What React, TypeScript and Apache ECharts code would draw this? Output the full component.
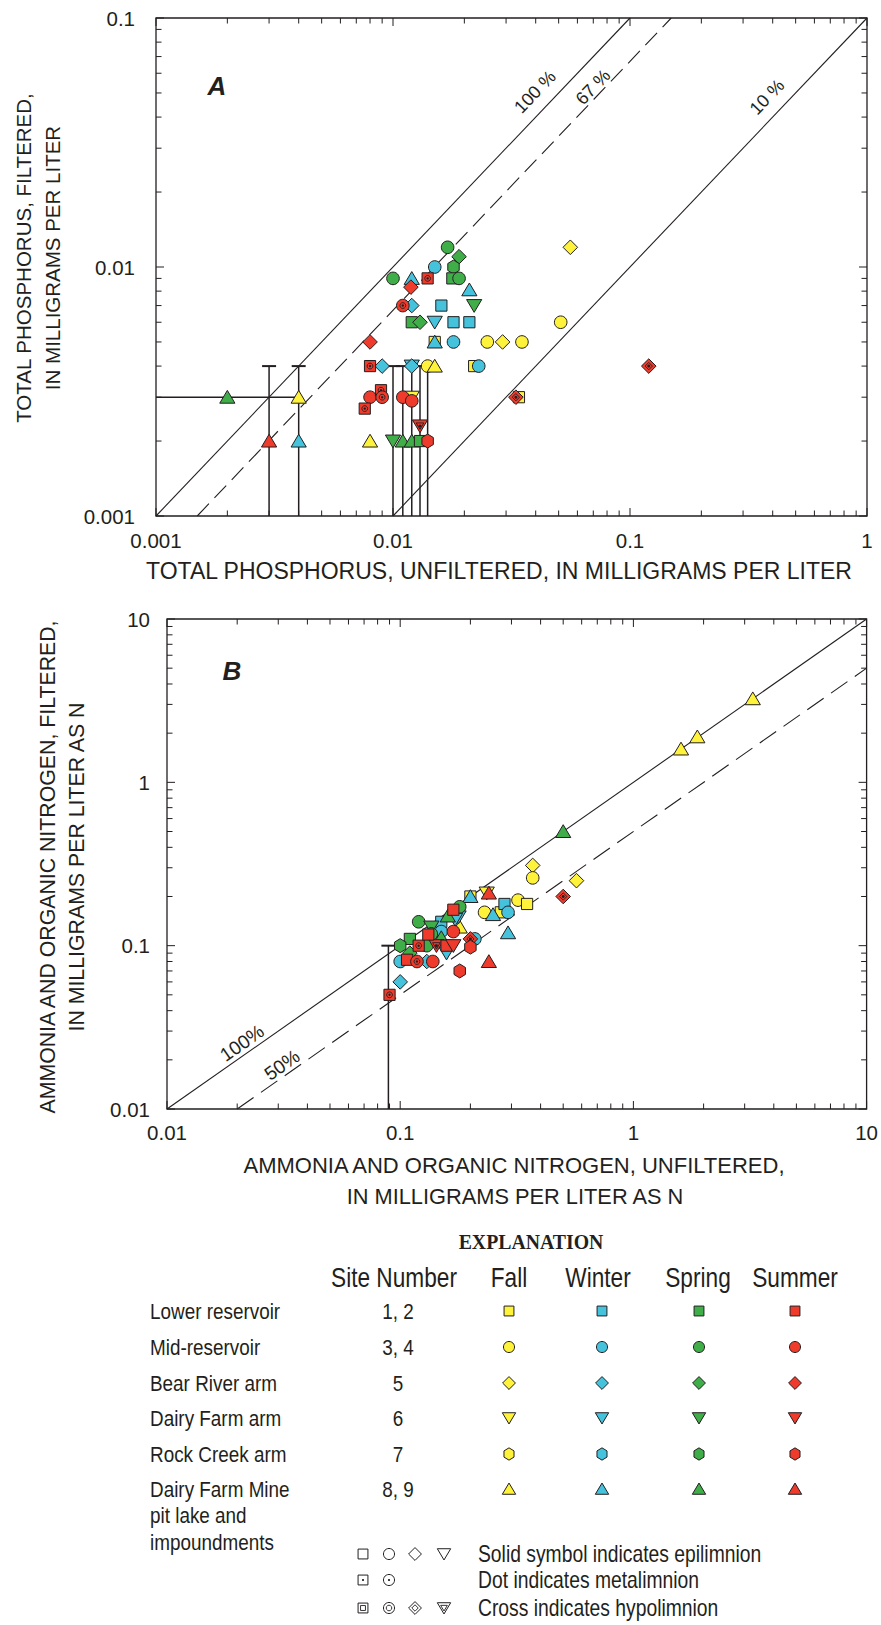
import React, { useEffect, useRef } from "react";
import * as echarts from "echarts";

const INK = "#231f20";
const SANS = "'Liberation Sans', Arial, Helvetica, sans-serif";
const SERIF = "'Liberation Serif', 'Times New Roman', serif";

// fall, winter, spring, summer
const SEASONS = ["Fall", "Winter", "Spring", "Summer"];
const SEASON_COLORS = ["#fff23a", "#45c3dc", "#3fae49", "#ee3b2c"];

// site symbols: sq lower reservoir, ci mid-reservoir, di Bear River arm,
// it Dairy Farm arm, hx Rock Creek arm, tr Dairy Farm Mine pit lake
const SITES = ["sq", "ci", "di", "it", "hx", "tr"];
// e epilimnion, m metalimnion, h hypolimnion
const LAYERS = ["e", "m", "h"];

// ---- Panel A: total phosphorus, [unfiltered, filtered, site, layer] (mg/L)
const phosFall: [number, number, string, string][] = [
  [0.056, 0.012, "di", "e"],
  [0.051, 0.006, "ci", "e"],
  [0.025, 0.005, "ci", "e"],
  [0.029, 0.005, "di", "e"],
  [0.035, 0.005, "ci", "e"],
  [0.015, 0.005, "sq", "e"],
  [0.014, 0.004, "ci", "e"],
  [0.015, 0.004, "tr", "e"],
  [0.022, 0.004, "sq", "e"],
  [0.034, 0.003, "sq", "e"],
  [0.012, 0.003, "it", "e"],
  [0.004, 0.003, "tr", "e"],
  [0.008, 0.002, "tr", "e"],
];
const phosWinter: [number, number, string, string][] = [
  [0.015, 0.010, "ci", "e"],
  [0.012, 0.009, "tr", "e"],
  [0.021, 0.0081, "tr", "e"],
  [0.012, 0.007, "di", "e"],
  [0.016, 0.007, "sq", "e"],
  [0.015, 0.006, "it", "e"],
  [0.018, 0.006, "sq", "e"],
  [0.021, 0.006, "sq", "e"],
  [0.015, 0.005, "tr", "e"],
  [0.018, 0.005, "ci", "e"],
  [0.009, 0.004, "di", "e"],
  [0.012, 0.004, "it", "e"],
  [0.012, 0.004, "di", "e"],
  [0.023, 0.004, "ci", "e"],
  [0.004, 0.002, "tr", "e"],
];
const phosSpring: [number, number, string, string][] = [
  [0.017, 0.012, "ci", "e"],
  [0.019, 0.011, "di", "e"],
  [0.018, 0.010, "hx", "e"],
  [0.010, 0.009, "ci", "e"],
  [0.0178, 0.009, "sq", "e"],
  [0.019, 0.009, "ci", "e"],
  [0.022, 0.007, "it", "e"],
  [0.012, 0.006, "sq", "e"],
  [0.013, 0.006, "di", "e"],
  [0.002, 0.003, "tr", "e"],
  [0.010, 0.002, "it", "e"],
  [0.011, 0.002, "tr", "e"],
  [0.012, 0.002, "tr", "e"],
  [0.013, 0.002, "sq", "e"],
];
const phosSummer: [number, number, string, string][] = [
  [0.014, 0.009, "sq", "m"],
  [0.0119, 0.0083, "di", "e"],
  [0.011, 0.007, "ci", "m"],
  [0.008, 0.005, "di", "e"],
  [0.008, 0.004, "sq", "m"],
  [0.008, 0.003, "ci", "e"],
  [0.0089, 0.0032, "sq", "m"],
  [0.009, 0.003, "ci", "m"],
  [0.0076, 0.0027, "sq", "m"],
  [0.011, 0.003, "ci", "e"],
  [0.012, 0.0029, "ci", "e"],
  [0.033, 0.003, "di", "h"],
  [0.12, 0.004, "di", "h"],
  [0.013, 0.0023, "it", "h"],
  [0.014, 0.002, "hx", "e"],
  [0.003, 0.002, "tr", "e"],
];
// censored values: vertical [x, yLow, yHigh], horizontal [xLow, xHigh, y]
const phosBarsV = [
  [0.003, 0.001, 0.004],
  [0.004, 0.001, 0.004],
  [0.010, 0.001, 0.004],
  [0.011, 0.001, 0.004],
  [0.012, 0.001, 0.004],
  [0.013, 0.001, 0.004],
  [0.014, 0.001, 0.004],
];
const phosBarsH = [[0.001, 0.004, 0.003]];
const phosRatios = [1, 0.67, 0.1];
const phosRatioDashed = [false, true, false];
const phosXLabels = ["0.001", "0.01", "0.1", "1"];
const phosYLabels = ["0.001", "0.01", "0.1"];

// ---- Panel B: ammonia + organic nitrogen, [unfiltered, filtered, site, layer] (mg/L as N)
const nitroFall: [number, number, string, string][] = [
  [3.25, 3.25, "tr", "e"],
  [1.88, 1.9, "tr", "e"],
  [1.6, 1.6, "tr", "e"],
  [0.37, 0.31, "di", "e"],
  [0.37, 0.26, "ci", "e"],
  [0.57, 0.25, "di", "e"],
  [0.32, 0.19, "ci", "e"],
  [0.35, 0.18, "sq", "e"],
  [0.27, 0.16, "sq", "e"],
  [0.23, 0.16, "ci", "e"],
  [0.2, 0.2, "sq", "e"],
  [0.235, 0.21, "it", "e"],
  [0.18, 0.13, "tr", "e"],
];
const nitroWinter: [number, number, string, string][] = [
  [0.28, 0.18, "sq", "e"],
  [0.29, 0.16, "ci", "e"],
  [0.25, 0.155, "tr", "e"],
  [0.29, 0.12, "tr", "e"],
  [0.2, 0.2, "tr", "e"],
  [0.1, 0.06, "di", "e"],
  [0.1, 0.08, "ci", "e"],
  [0.13, 0.08, "di", "e"],
  [0.158, 0.09, "it", "e"],
  [0.15, 0.14, "sq", "e"],
  [0.15, 0.122, "ci", "e"],
  [0.178, 0.15, "it", "e"],
  [0.172, 0.145, "it", "e"],
  [0.209, 0.11, "ci", "e"],
];
const nitroSpring: [number, number, string, string][] = [
  [0.5, 0.5, "tr", "e"],
  [0.12, 0.14, "ci", "e"],
  [0.11, 0.11, "sq", "e"],
  [0.1, 0.1, "hx", "e"],
  [0.11, 0.09, "di", "e"],
  [0.13, 0.1, "ci", "e"],
  [0.136, 0.13, "it", "e"],
  [0.15, 0.112, "tr", "e"],
  [0.16, 0.152, "tr", "e"],
  [0.18, 0.173, "ci", "e"],
  [0.136, 0.118, "ci", "e"],
];
const nitroSummer: [number, number, string, string][] = [
  [0.5, 0.2, "di", "h"],
  [0.24, 0.21, "tr", "e"],
  [0.24, 0.08, "tr", "e"],
  [0.18, 0.07, "hx", "e"],
  [0.09, 0.05, "sq", "m"],
  [0.107, 0.082, "sq", "e"],
  [0.118, 0.08, "ci", "m"],
  [0.138, 0.08, "ci", "e"],
  [0.12, 0.1, "sq", "m"],
  [0.143, 0.1, "it", "h"],
  [0.158, 0.1, "sq", "e"],
  [0.169, 0.1, "it", "e"],
  [0.132, 0.117, "sq", "e"],
  [0.169, 0.122, "ci", "e"],
  [0.169, 0.166, "sq", "e"],
  [0.2, 0.11, "di", "h"],
  [0.2, 0.098, "hx", "e"],
];
const nitroBarsV = [[0.089, 0.01, 0.1]];
const nitroRatios = [1, 0.5];
const nitroRatioDashed = [false, true];
const nitroXLabels = ["0.01", "0.1", "1", "10"];
const nitroYLabels = ["0.01", "0.1", "1", "10"];

// ---- Explanation table
const legendSites = [
  "Lower reservoir",
  "Mid-reservoir",
  "Bear River arm",
  "Dairy Farm arm",
  "Rock Creek arm",
  "Dairy Farm Mine",
];
const legendSiteNumbers = ["1, 2", "3, 4", "5", "6", "7", "8, 9"];
const legendLayerTexts = [
  "Solid symbol indicates epilimnion",
  "Dot indicates metalimnion",
  "Cross indicates hypolimnion",
];

// plot frames (px)
const GA = { left: 156, top: 18, width: 711, height: 498 };
const GB = { left: 167, top: 619, width: 700, height: 490 };
const EXT_A = { xmin: 0.001, xmax: 1, ymin: 0.001, ymax: 0.1 };
const EXT_B = { xmin: 0.01, xmax: 10, ymin: 0.01, ymax: 10 };

// condensed look for the sans text
const CONDENSE = 0.84;

function shapeEl(site: string, cx: number, cy: number, k: number, style: any): any {
  switch (site) {
    case "sq":
      return { type: "rect", shape: { x: cx - 5.6 * k, y: cy - 5.6 * k, width: 11.2 * k, height: 11.2 * k }, style };
    case "ci":
      return { type: "circle", shape: { cx, cy, r: 6.3 * k }, style };
    case "di":
      return {
        type: "polygon",
        shape: { points: [[cx, cy - 7.3 * k], [cx + 7.3 * k, cy], [cx, cy + 7.3 * k], [cx - 7.3 * k, cy]] },
        style,
      };
    case "it":
      return {
        type: "polygon",
        shape: { points: [[cx - 7.6 * k, cy - 6 * k], [cx + 7.6 * k, cy - 6 * k], [cx, cy + 6.8 * k]] },
        style,
      };
    case "tr":
      return {
        type: "polygon",
        shape: { points: [[cx, cy - 6.8 * k], [cx + 7.6 * k, cy + 6 * k], [cx - 7.6 * k, cy + 6 * k]] },
        style,
      };
    default: {
      const pts: number[][] = [];
      for (let i = 0; i < 6; i++) {
        const a = -Math.PI / 2 + (i * Math.PI) / 3;
        pts.push([cx + 6.6 * k * Math.cos(a), cy + 7 * k * Math.sin(a)]);
      }
      return { type: "polygon", shape: { points: pts }, style };
    }
  }
}

function markerParts(site: string, layer: string, cx: number, cy: number, fill: string, k = 1, ring = true): any[] {
  const parts = [shapeEl(site, cx, cy, k, { fill, stroke: INK, lineWidth: 1 })];
  if (layer === "m") {
    if (ring) parts.push({ type: "circle", shape: { cx, cy, r: 2.9 * k }, style: { fill: "none", stroke: INK, lineWidth: 0.9 } });
    parts.push({ type: "circle", shape: { cx, cy, r: 1.2 * k }, style: { fill: INK } });
  } else if (layer === "h") {
    parts.push(shapeEl(site, cx, cy, 0.5 * k, { fill: "none", stroke: INK, lineWidth: 0.9 }));
    parts.push({ type: "circle", shape: { cx, cy, r: 1.5 * k }, style: { fill: INK } });
  }
  return parts;
}

function markerSeries(g: number, rows: [number, number, string, string][], season: number): any {
  return {
    type: "custom",
    name: SEASONS[season],
    xAxisIndex: g,
    yAxisIndex: g,
    z: 5,
    encode: { x: 0, y: 1 },
    data: rows.map(([x, y, s, l]) => [x, y, SITES.indexOf(s), LAYERS.indexOf(l)]),
    renderItem: (_p: any, api: any) => {
      const pt = api.coord([api.value(0), api.value(1)]);
      const site = SITES[api.value(2) as number];
      const layer = LAYERS[api.value(3) as number];
      return { type: "group", children: markerParts(site, layer, pt[0], pt[1], SEASON_COLORS[season]) };
    },
  };
}

function tickValues(min: number, max: number): [number, boolean][] {
  const out: [number, boolean][] = [];
  const e0 = Math.round(Math.log10(min));
  const e1 = Math.round(Math.log10(max));
  for (let e = e0; e <= e1; e++) {
    for (let m = 1; m <= 9; m++) {
      const v = Number((m * Math.pow(10, e)).toPrecision(6));
      if (v < min * 0.999 || v > max * 1.001) continue;
      out.push([v, m === 1]);
    }
  }
  return out;
}

// inward ticks on all four sides of a frame
function tickSeries(g: number, ext: typeof EXT_A): any {
  const data: number[][] = [];
  tickValues(ext.xmin, ext.xmax).forEach(([v, major]) => data.push([v, ext.ymin, 0, major ? 1 : 0]));
  tickValues(ext.ymin, ext.ymax).forEach(([v, major]) => data.push([ext.xmin, v, 1, major ? 1 : 0]));
  return {
    type: "custom",
    xAxisIndex: g,
    yAxisIndex: g,
    silent: true,
    z: 3,
    encode: { x: 0, y: 1 },
    data,
    renderItem: (_p: any, api: any) => {
      const kind = api.value(2);
      const len = api.value(3) ? 8 : 5.5;
      const st = { stroke: INK, lineWidth: 1 };
      if (kind === 0) {
        const v = api.value(0);
        const a = api.coord([v, ext.ymin]);
        const b = api.coord([v, ext.ymax]);
        return {
          type: "group",
          children: [
            { type: "line", shape: { x1: a[0], y1: a[1], x2: a[0], y2: a[1] - len }, style: st },
            { type: "line", shape: { x1: b[0], y1: b[1], x2: b[0], y2: b[1] + len }, style: st },
          ],
        };
      }
      const v = api.value(1);
      const a = api.coord([ext.xmin, v]);
      const b = api.coord([ext.xmax, v]);
      return {
        type: "group",
        children: [
          { type: "line", shape: { x1: a[0], y1: a[1], x2: a[0] + len, y2: a[1] }, style: st },
          { type: "line", shape: { x1: b[0], y1: b[1], x2: b[0] - len, y2: b[1] }, style: st },
        ],
      };
    },
  };
}

function barSeries(g: number, vBars: number[][], hBars: number[][]): any {
  const data: number[][] = [];
  vBars.forEach(([x, lo, hi]) => data.push([x, lo, x, hi, 1]));
  hBars.forEach(([lo, hi, y]) => data.push([lo, y, hi, y, 0]));
  return {
    type: "custom",
    xAxisIndex: g,
    yAxisIndex: g,
    silent: true,
    z: 4,
    encode: { x: [0, 2], y: [1, 3] },
    data,
    renderItem: (_p: any, api: any) => {
      const a = api.coord([api.value(0), api.value(1)]);
      const b = api.coord([api.value(2), api.value(3)]);
      const st = { stroke: INK, lineWidth: 1.5 };
      const children: any[] = [{ type: "line", shape: { x1: a[0], y1: a[1], x2: b[0], y2: b[1] }, style: st }];
      if (api.value(4) === 1) {
        children.push({ type: "line", shape: { x1: b[0] - 7, y1: b[1], x2: b[0] + 7, y2: b[1] }, style: { stroke: INK, lineWidth: 2 } });
      }
      return { type: "group", children };
    },
  };
}

function ratioLine(g: number, r: number, dashed: boolean, ext: typeof EXT_A, dash: number[]): any {
  const x1 = Math.max(ext.xmin, ext.ymin / r);
  const x2 = Math.min(ext.xmax, ext.ymax / r);
  return {
    type: "line",
    xAxisIndex: g,
    yAxisIndex: g,
    silent: true,
    z: 2,
    symbol: "none",
    data: [
      [x1, r * x1],
      [x2, r * x2],
    ],
    lineStyle: { color: INK, width: 1.1, type: dashed ? dash : "solid" },
  };
}

function logAxis(g: number, min: number, max: number, labels: string[], margin: number): any {
  return {
    type: "log",
    logBase: 10,
    gridIndex: g,
    min,
    max,
    axisLine: { show: false },
    axisTick: { show: false },
    minorTick: { show: false },
    splitLine: { show: false },
    axisLabel: {
      show: true,
      margin,
      fontSize: 20.5,
      fontFamily: SANS,
      color: INK,
      showMinLabel: true,
      showMaxLabel: true,
      formatter: (v: number) => labels[Math.round(Math.log10(v / min))] ?? "",
    },
  };
}

function txt(text: string, x: number, y: number, o: any = {}): any {
  const align = o.align ?? "center";
  const el: any = {
    type: "text",
    x,
    y,
    rotation: o.rotation ?? 0,
    z: 10,
    style: {
      text,
      fill: INK,
      fontSize: o.size ?? 22,
      fontFamily: o.family ?? SANS,
      fontWeight: o.weight ?? "normal",
      fontStyle: o.style ?? "normal",
      lineHeight: o.lineHeight,
      align,
      textAlign: align,
      verticalAlign: "middle",
      textVerticalAlign: "middle",
    },
  };
  if (o.sx) {
    el.scaleX = o.sx;
  }
  return el;
}

function buildGraphic(): any[] {
  const g: any[] = [];
  const degA = (46.4 * Math.PI) / 180;
  const degB = (35 * Math.PI) / 180;

  // panel letters
  g.push(txt("A", 217, 86, { size: 26, weight: "bold", style: "italic" }));
  g.push(txt("B", 232, 671, { size: 26, weight: "bold", style: "italic" }));

  // ratio line labels
  g.push(txt("100 %", 535, 92, { size: 18, rotation: degA }));
  g.push(txt("67 %", 593, 87, { size: 18, rotation: degA }));
  g.push(txt("10 %", 767, 97, { size: 18, rotation: degA }));
  g.push(txt("100%", 242, 1043, { size: 19, rotation: degB }));
  g.push(txt("50%", 282, 1065, { size: 19, rotation: degB }));

  // axis titles
  g.push(
    txt("TOTAL PHOSPHORUS, FILTERED,\nIN MILLIGRAMS PER LITER", 38, 258, {
      size: 20.5,
      rotation: Math.PI / 2,
      lineHeight: 29,
    })
  );
  g.push(txt("TOTAL PHOSPHORUS, UNFILTERED, IN MILLIGRAMS PER LITER", 499, 571, { size: 23 }));
  g.push(
    txt("AMMONIA AND ORGANIC NITROGEN, FILTERED,\nIN MILLIGRAMS PER LITER AS N", 62, 867, {
      size: 21.3,
      rotation: Math.PI / 2,
      lineHeight: 29,
    })
  );
  g.push(txt("AMMONIA AND ORGANIC NITROGEN, UNFILTERED,", 514, 1165, { size: 22 }));
  g.push(txt("IN MILLIGRAMS PER LITER AS N", 515, 1196, { size: 21.8 }));

  // explanation
  g.push(txt("EXPLANATION", 531, 1242, { size: 22, family: SERIF, weight: "bold", sx: 0.9 }));
  g.push(txt("Site Number", 394, 1277, { size: 27, sx: CONDENSE }));
  const colX = [509, 602, 699, 795];
  const headX = [509, 598, 698, 795];
  SEASONS.forEach((s, i) => g.push(txt(s, headX[i], 1277, { size: 27, sx: CONDENSE })));
  const rowY = [1311, 1347, 1383, 1418, 1454, 1489];
  legendSites.forEach((name, i) => {
    g.push(txt(name, 150, rowY[i], { align: "left", size: 22.5, sx: CONDENSE }));
    g.push(txt(legendSiteNumbers[i], 398, rowY[i], { size: 22.5, sx: CONDENSE }));
    SEASON_COLORS.forEach((c, j) => {
      markerParts(SITES[i], "e", colX[j], rowY[i], c, 0.88).forEach((p) => g.push({ ...p, z: 10 }));
    });
  });
  g.push(txt("pit lake and", 150, 1515, { align: "left", size: 22.5, sx: CONDENSE }));
  g.push(txt("impoundments", 150, 1542, { align: "left", size: 22.5, sx: CONDENSE }));

  const keyX = [363, 389, 415, 444];
  const keyY = [1554, 1580, 1608];
  const keyShapes = [["sq", "ci", "di", "it"], ["sq", "ci"], ["sq", "ci", "di", "it"]];
  keyShapes.forEach((row, r) => {
    row.forEach((s, i) => {
      markerParts(s, LAYERS[r], keyX[i], keyY[r], "#ffffff", 0.88, false).forEach((p) => g.push({ ...p, z: 10 }));
    });
    g.push(txt(legendLayerTexts[r], 478, keyY[r], { align: "left", size: 23, sx: CONDENSE }));
  });
  return g;
}

export default function App() {
  const ref = useRef<HTMLDivElement>(null);
  useEffect(() => {
    if (!ref.current) return;
    const chart = echarts.init(ref.current, undefined, { renderer: "svg" });
    const series: any[] = [
      tickSeries(0, EXT_A),
      tickSeries(1, EXT_B),
      ...phosRatios.map((r, i) => ratioLine(0, r, phosRatioDashed[i], EXT_A, [17, 8])),
      ...nitroRatios.map((r, i) => ratioLine(1, r, nitroRatioDashed[i], EXT_B, [20, 9])),
      barSeries(0, phosBarsV, phosBarsH),
      barSeries(1, nitroBarsV, []),
      markerSeries(0, phosFall, 0),
      markerSeries(0, phosWinter, 1),
      markerSeries(0, phosSpring, 2),
      markerSeries(0, phosSummer, 3),
      markerSeries(1, nitroFall, 0),
      markerSeries(1, nitroWinter, 1),
      markerSeries(1, nitroSpring, 2),
      markerSeries(1, nitroSummer, 3),
    ];
    chart.setOption({
      animation: false,
      backgroundColor: "#ffffff",
      grid: [
        { ...GA, show: true, borderColor: INK, borderWidth: 1.3, backgroundColor: "transparent" },
        { ...GB, show: true, borderColor: INK, borderWidth: 1.3, backgroundColor: "transparent" },
      ],
      xAxis: [
        logAxis(0, EXT_A.xmin, EXT_A.xmax, phosXLabels, 14),
        logAxis(1, EXT_B.xmin, EXT_B.xmax, nitroXLabels, 13),
      ],
      yAxis: [
        logAxis(0, EXT_A.ymin, EXT_A.ymax, phosYLabels, 21),
        logAxis(1, EXT_B.ymin, EXT_B.ymax, nitroYLabels, 17),
      ],
      series,
      graphic: buildGraphic(),
    });
    return () => chart.dispose();
  }, []);
  return (
    <div
      ref={ref}
      style={{ position: "fixed", left: 0, top: 0, width: 881, height: 1625, background: "#ffffff" }}
    />
  );
}
